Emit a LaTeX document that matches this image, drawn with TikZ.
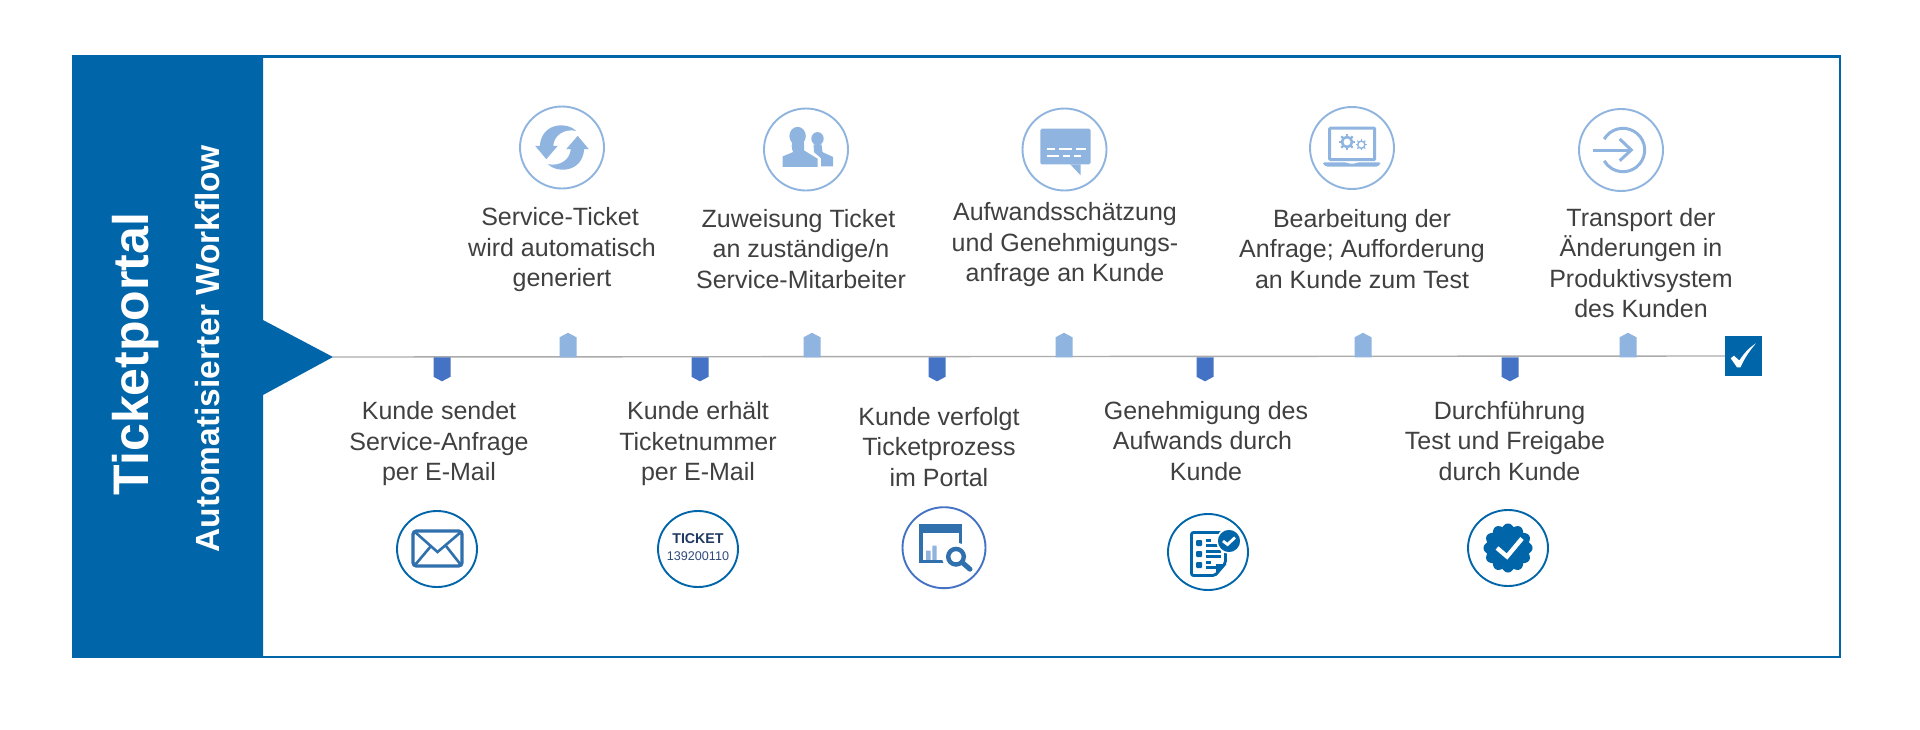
\documentclass[tikz,border=0pt]{standalone}
\usepackage{fontspec}
\setmainfont{Liberation Sans}
\usetikzlibrary{shapes.geometric}
\definecolor{mainblue}{HTML}{0065A9}
\definecolor{iconblue}{HTML}{2F70AD}
\definecolor{lightblue}{HTML}{8FB4DF}
\definecolor{downblue}{HTML}{4472C4}
\definecolor{textgray}{HTML}{404040}
\definecolor{linegray}{HTML}{ABABAB}
\definecolor{navy}{HTML}{1F3864}
\definecolor{navysoft}{HTML}{2F4A7A}
\tikzset{
  steptext/.style={align=center,text=textgray,inner sep=0pt,font=\fontsize{25}{30.5}\selectfont},
  ringdark/.style={ellipse,draw=mainblue,line width=1.9pt,fill=white,inner sep=0pt,minimum width=80pt,minimum height=76pt},
  ringportal/.style={ellipse,draw=downblue,line width=1.9pt,fill=white,inner sep=0pt,minimum width=83pt,minimum height=81pt},
  ringlight/.style={ellipse,draw=lightblue,line width=1.9pt,fill=white,inner sep=0pt,minimum width=84pt,minimum height=82pt},
  pics/downmark/.style={code={\fill[downblue] (-8.5,0) -- (8.5,0) -- (8.5,19.5) -- (0,24) -- (-8.5,19.5) -- cycle;}},
  pics/upmark/.style={code={\fill[lightblue] (-8.5,0) -- (8.5,0) -- (8.5,-20) -- (0,-24.5) -- (-8.5,-20) -- cycle;}},
}
\begin{document}
\begin{tikzpicture}[x=1pt,y=-1pt]
\useasboundingbox (0,0) rectangle (1920,729);
\fill[white] (0,0) rectangle (1920,729);
% frame and panel
\draw[mainblue,line width=2.4pt] (73.5,56.5) rectangle (1840,657);
\fill[mainblue] (73.5,56) -- (263,56) -- (263,320) -- (333,357) -- (263,395) -- (263,657) -- (73.5,657) -- cycle;
\node[rotate=90,anchor=base,text=white,inner sep=0pt,font=\fontsize{50}{50}\selectfont\bfseries] (title) at (148,354) {Ticketportal};
\node[rotate=90,anchor=base,text=white,inner sep=0pt,font=\fontsize{33.5}{34}\selectfont\bfseries] (subtitle) at (219,349) {Automatisierter Workflow};
% timeline
\coordinate (tip) at (333,357);
\node[fill=mainblue,minimum width=37pt,minimum height=40pt,inner sep=0pt] (donebox) at (1743.5,356) {};
\draw[linegray,line width=1.4pt] (tip) -- (donebox.west);
\fill[white] (1730.7,358.3) -- (1734,355.7) -- (1739.3,360.5) .. controls (1744,353) and (1750,347) .. (1756,343.3) .. controls (1750,350) and (1744,359) .. (1740.5,367.3) -- (1737,367.3) -- cycle;
\foreach \mx in {442,700,937,1205,1510} {\pic at (\mx,357.3) {downmark};}
\foreach \mx in {568,812,1064,1363,1628} {\pic at (\mx,357.3) {upmark};}
% top labels
\node[steptext] (t1) at (562,250) {\hspace*{-4pt}Service-Ticket\\wird automatisch\\generiert};
\node[steptext] (t2) at (801,249) {\hspace*{-5pt}Zuweisung Ticket\\an zuständige/n\\Service-Mitarbeiter};
\node[steptext] (t3) at (1065,245) {Aufwandsschätzung\\und Genehmigungs-\\anfrage an Kunde};
\node[steptext] (t4) at (1362,249) {Bearbeitung der\\Anfrage; Aufforderung\\an Kunde zum Test};
\node[steptext] (t5) at (1641,263) {Transport der\\Änderungen in\\Produktivsystem\\des Kunden};
% bottom labels
\node[steptext] (b1) at (439,444) {Kunde sendet\\Service-Anfrage\\per E-Mail};
\node[steptext] (b2) at (698,444) {Kunde erhält\\Ticketnummer\\per E-Mail};
\node[steptext] (b3) at (939,447) {Kunde verfolgt\\Ticketprozess\\im Portal};
\node[steptext] (b4) at (1206,441) {Genehmigung des\\\hspace*{-7pt}Aufwands durch\\Kunde};
\node[steptext] (b5) at (1505,441) {\hspace*{9pt}Durchführung\\Test und Freigabe\\\hspace*{9pt}durch Kunde};
% rings
\node[ringlight] (r1) at (562,147.5) {};
\node[ringlight] (r2) at (806,149.5) {};
\node[ringlight] (r3) at (1064.5,149.5) {};
\node[ringlight] (r4) at (1352,148) {};
\node[ringlight] (r5) at (1621,150) {};
\node[ringdark] (s1) at (437,549) {};
\node[ringdark] (s2) at (698,549) {};
\node[ringportal] (s3) at (944,547.7) {};
\node[ringdark] (s4) at (1208,552) {};
\node[ringdark] (s5) at (1508,548) {};
% refresh icon
\begin{scope}[shift={(562,147.5)},yscale=0.871]
 \fill[lightblue] (14.2,-19.1) .. controls (6,-29) and (-20,-30) .. (-22.2,-1.9) -- (-26.8,-1.9) -- (-15.7,13.4) -- (-4.2,-1.9) -- (-8.8,-1.9) .. controls (-8,-14) and (2,-22) .. cycle;
 \fill[lightblue] (-14.2,19.1) .. controls (-6,29) and (20,30) .. (22.2,1.9) -- (26.8,1.9) -- (15.7,-13.4) -- (4.2,1.9) -- (8.8,1.9) .. controls (8,14) and (-2,22) .. cycle;
\end{scope}
% people icon
\begin{scope}[shift={(806,149.5)},yscale=0.871]
 \fill[lightblue] (11.5,-12.5) ellipse[x radius=6.2pt,y radius=7.5pt];
 \fill[lightblue] (15,19.5) -- (15,10) -- (8,3) -- (7.5,-6) -- (15.5,-6) -- (16.5,3) -- (27,8.5) -- (27,19.5) -- cycle;
 \fill[lightblue] (-23.5,20) -- (-23.5,8) -- (-13,3) -- (-14.5,-5) -- (-2,-5) -- (-2,1) -- (11.5,10.5) -- (11.5,20) -- cycle;
 \draw[white,line width=1.5pt] (13,20) -- (13,9.5) -- (6,4.5) -- (5,-6);
 \fill[lightblue] (-8.4,-15.5) ellipse[x radius=8.2pt,y radius=10.5pt];
 \fill[lightblue] (-14.5,-10) rectangle (-2.5,0);
\end{scope}
% chat icon
\begin{scope}[shift={(1064.5,149.5)},yscale=0.871]
 \fill[lightblue,rounded corners=1.5pt] (-24.1,-24) rectangle (26,17.2);
 \fill[lightblue] (5.7,17) -- (16,29.5) -- (16,17) -- cycle;
 \draw[white,line width=2pt] (-18,-0.4) -- (-9.6,-0.4) (-5.7,-0.4) -- (7.6,-0.4) (11.5,-0.4) -- (21,-0.4)
   (-18,6.9) -- (-5.7,6.9) (-1.1,6.9) -- (5.7,6.9) (9.6,6.9) -- (16.4,6.9);
\end{scope}
% laptop icon
\begin{scope}[shift={(1352,148)}]
 \draw[lightblue,line width=3pt,rounded corners=1pt] (-22.3,11.7) -- (-22.3,-20) -- (22.7,-20) -- (22.7,11.7) -- cycle;
 \fill[lightblue,rounded corners=1.5pt] (-29,14.3) -- (-6,14.3) -- (-4,15.5) -- (4,15.5) -- (6,14.3) -- (28.3,14.3) -- (28.3,16) -- (26,18.5) -- (-26,18.5) -- (-29,16) -- cycle;
 \draw[lightblue,line width=2.6pt] (-5,-6) circle[radius=5pt];
 \foreach \a in {0,45,...,315}{\draw[lightblue,line width=2.2pt] ({-5+5*cos(\a)},{-6+5*sin(\a)}) -- ({-5+8*cos(\a)},{-6+8*sin(\a)});}
 \draw[lightblue,line width=1.4pt] (9.3,-3.3) circle[radius=3.6pt];
 \foreach \a in {0,45,...,315}{\draw[lightblue,line width=1.2pt] ({9.3+3.6*cos(\a)},{-3.3+3.6*sin(\a)}) -- ({9.3+5.6*cos(\a)},{-3.3+5.6*sin(\a)});}
\end{scope}
% transport icon
\begin{scope}[shift={(1621,150)}]
 \draw[lightblue,line width=3pt] (-16.8,-10.85) arc[start angle=150,end angle=-150,radius=21.7pt];
 \draw[lightblue,line width=3pt] (-28,0) -- (10,0);
 \draw[lightblue,line width=3pt] (-1.3,-11) -- (10.3,0) -- (-1.3,10.7);
\end{scope}
% mail icon
\begin{scope}[shift={(437,549)}]
 \draw[iconblue,line width=3.4pt,rounded corners=3.5pt] (-24,-18) rectangle (25,17);
 \draw[iconblue,line width=2.6pt] (-22,-17) -- (0.5,3) -- (24,-17);
 \draw[iconblue,line width=2.6pt] (-22,16) -- (-6,-3) (24,16) -- (9,-3);
\end{scope}
% ticket icon
\node[inner sep=0pt,text=navy,font=\fontsize{14.2}{14}\selectfont\bfseries] (tk1) at (698,539) {TICKET};
\node[inner sep=0pt,text=navysoft,font=\fontsize{12.6}{13}\selectfont] (tk2) at (698,556) {139200110};
% portal icon
\begin{scope}[shift={(944,547.7)}]
 \draw[iconblue,line width=3.4pt] (-23,-20) rectangle (16.5,13.5);
 \fill[iconblue] (-24.7,-23.3) rectangle (18,-15);
 \fill[lightblue] (-18,2.8) rectangle (-13.3,12.2) (-11.7,-2.2) rectangle (-7.3,12.2);
 \fill[white] (12,9) circle[radius=14pt];
 \draw[iconblue,line width=4.4pt] (12,9) circle[radius=7.8pt];
 \draw[iconblue,line width=5pt,line cap=round] (18.5,15) -- (26,21.5);
\end{scope}
% checklist icon
\begin{scope}[shift={(1208,552)}]
 \draw[mainblue,line width=2.8pt,rounded corners=2pt] (17.5,11) -- (17.5,-19.5) -- (-16.5,-19.5) -- (-16.5,23.5) -- (7,23.5) -- cycle;
 \fill[mainblue] (18.5,12) -- (8,24) -- (8,12) -- cycle;
 \foreach \yy/\ln in {-9/5,2/15,13/5}{
  \fill[mainblue,rounded corners=1pt] (-12,{\yy-3}) rectangle (-6,{\yy+3});
  \draw[mainblue,line width=2.2pt] (-2,{\yy-2.5}) -- (-2+\ln,{\yy-2.5}) (-2,{\yy+2.5}) -- (13,{\yy+2.5});
 }
 \fill[mainblue,draw=white,line width=1.6pt] (21,-11) circle[radius=12pt];
 \draw[white,line width=2.8pt] (15,-11) -- (19.5,-7.5) -- (27,-14.5);
\end{scope}
% badge icon
\begin{scope}[shift={(1508,548)}]
 \fill[mainblue] plot[domain=0:360,samples=241] ({(21.5+3*abs(cos(6*\x)))*cos(\x)},{(21.5+3*abs(cos(6*\x)))*sin(\x)}) -- cycle;
 \draw[white,line width=4.4pt] (-11,0) -- (-1,8.5) -- (14,-9.5);
\end{scope}
\end{tikzpicture}
\end{document}
